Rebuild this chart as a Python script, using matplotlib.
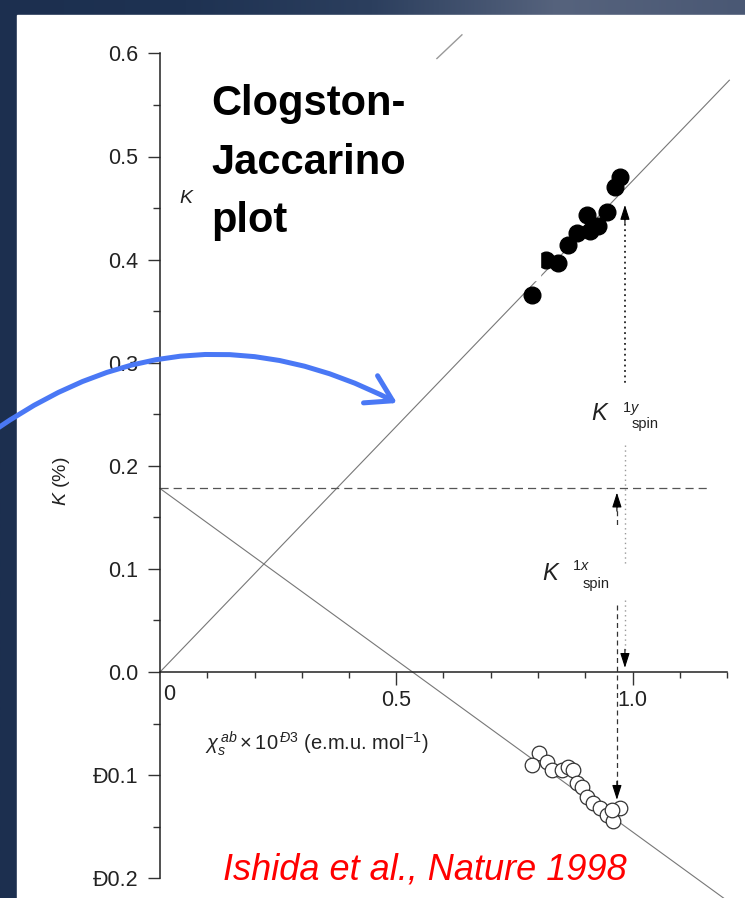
import numpy as np
import matplotlib
matplotlib.use("Agg")
import matplotlib.pyplot as plt
from matplotlib.patches import Rectangle, FancyArrowPatch
from matplotlib.colors import LinearSegmentedColormap

plt.rcParams['font.family'] = ['Liberation Sans', 'DejaVu Sans']
plt.rcParams['mathtext.fontset'] = 'custom'
plt.rcParams['mathtext.rm'] = 'Liberation Sans'
plt.rcParams['mathtext.it'] = 'Liberation Sans:italic'
plt.rcParams['mathtext.bf'] = 'Liberation Sans:bold'

W, H = 745, 898

# values
chi_filled = [0.787, 0.817, 0.842, 0.863, 0.883, 0.904, 0.910, 0.927, 0.946, 0.963, 0.974]
k_filled = [0.366, 0.400, 0.397, 0.414, 0.426, 0.443, 0.428, 0.433, 0.446, 0.470, 0.480]

chi_open = [0.802, 0.787, 0.819, 0.830, 0.851, 0.863, 0.874, 0.883, 0.893,
            0.904, 0.916, 0.931, 0.946, 0.959, 0.974, 0.957]
k_open = [-0.079, -0.090, -0.087, -0.095, -0.095, -0.092, -0.095, -0.108, -0.112,
          -0.121, -0.127, -0.132, -0.139, -0.145, -0.132, -0.134]

up_chi, up_k = [0.0, 1.205], [0.0, 0.574]          # K vs chi through origin
down_chi, down_k = [0.0, 1.24], [0.178, -0.235]    # falling line
k_orb = 0.178                                      # dashed level
frag_chi, frag_k = [0.586, 0.639], [0.595, 0.618]  # stray segment at top

chi_1y, chi_1x = 0.984, 0.967

yticks = [0.6, 0.5, 0.4, 0.3, 0.2, 0.1, 0.0, -0.1, -0.2]
ylabels = ['0.6', '0.5', '0.4', '0.3', '0.2', '0.1', '0.0', 'Ð0.1', 'Ð0.2']
xticks = [0.5, 1.0]
xlabels = ['0.5', '1.0']

fig = plt.figure(figsize=(W / 100, H / 100), dpi=100)


def px(x, y):
    return x / W, 1 - y / H


# slide background
bg = fig.add_axes([0, 0, 1, 1], zorder=-10)
cmap = LinearSegmentedColormap.from_list(
    'slide', ['#1c2f4f', '#1e3252', '#2c3f5e', '#56637d', '#4a5874'])
bg.imshow(np.linspace(0, 1, 256)[None, :], aspect='auto', cmap=cmap,
          extent=[0, 1, 0, 1])
bg.add_patch(Rectangle((17 / W, 0), 1, 1 - 15 / H, color='white'))
bg.set_xlim(0, 1)
bg.set_ylim(0, 1)
bg.set_axis_off()

# main axes, placed so that chi=0 -> x 160 px, K=0 -> y 672 px
x0, y0, sx, sy = 160, 672, 472.5, 1031
xlim, ylim = (0, 1.23), (-0.225, 0.62)
top_px = y0 - ylim[1] * sy
bot_px = y0 - ylim[0] * sy
ax = fig.add_axes([x0 / W, 1 - bot_px / H, (xlim[1] - xlim[0]) * sx / W,
                   (bot_px - top_px) / H])
ax.set_xlim(xlim)
ax.set_ylim(ylim)
ax.patch.set_alpha(0)

for s in ['top', 'right']:
    ax.spines[s].set_visible(False)
ax.spines['left'].set_bounds(-0.2, 0.6)
ax.spines['bottom'].set_position(('data', 0))
ax.spines['bottom'].set_bounds(0, 1.2)
for s in ['left', 'bottom']:
    ax.spines[s].set_linewidth(1.1)
    ax.spines[s].set_color('#222222')

ax.set_yticks(yticks, ylabels)
ax.set_yticks(np.arange(-0.15, 0.6, 0.1), minor=True)
ax.set_xticks(xticks, xlabels)
ax.set_xticks([0.1, 0.2, 0.3, 0.4, 0.6, 0.7, 0.8, 0.9, 1.1, 1.2], minor=True)
ax.tick_params(axis='y', which='major', length=9, width=1, pad=6.5,
               labelsize=15.5, color='#333333', labelcolor='#222222')
ax.tick_params(axis='y', which='minor', length=5, width=1, color='#333333')
ax.tick_params(axis='x', which='major', length=9, width=1, pad=4,
               labelsize=15.5, color='#333333', labelcolor='#222222')
ax.tick_params(axis='x', which='minor', length=4.5, width=1, color='#333333')
fig.text(*px(163, 684), '0', fontsize=15.5, color='#222222', ha='left', va='top')

# fit lines
ax.plot(up_chi, up_k, color='#777777', lw=0.8, zorder=1)
ax.plot(down_chi, down_k, color='#777777', lw=0.8, zorder=1, clip_on=False)
ax.plot([0, 1.16], [k_orb, k_orb], color='#555555', lw=0.9,
        ls=(0, (6.5, 4)), zorder=1)
ax.plot(frag_chi, frag_k, color='#999999', lw=1.0, zorder=1)

# data
ax.plot(chi_filled, k_filled, 'o', color='black', ms=12, zorder=2)
ax.plot(chi_open, k_open, 'o', mfc='white', mec='#333333', mew=0.9,
        ms=10.5, zorder=2)

# K1y spin arrow (dotted)
ax.plot([chi_1y, chi_1y], [0.445, 0.278], color='#222222', lw=1.3,
        ls=(0, (1, 2)), zorder=2)
ax.plot([chi_1y, chi_1y], [0.22, 0.105], color='#999999', lw=1.0,
        ls=(0, (1, 2.5)), zorder=2)
ax.plot([chi_1y, chi_1y], [0.070, 0.012], color='#999999', lw=1.0,
        ls=(0, (1, 2.5)), zorder=2)
arw = dict(arrowstyle='-|>,head_length=0.5,head_width=0.16', color='black',
           lw=0.8, shrinkA=0, shrinkB=0, mutation_scale=18)
ax.annotate('', xy=(chi_1y, 0.453), xytext=(chi_1y, 0.435), arrowprops=arw)
ax.annotate('', xy=(chi_1y, 0.004), xytext=(chi_1y, 0.022), arrowprops=arw)

# K1x spin arrow (dashed)
ax.plot([chi_1x, chi_1x], [0.165, 0.141], color='#333333', lw=0.9,
        ls=(0, (4, 3)), zorder=2)
ax.plot([chi_1x, chi_1x], [0.065, -0.115], color='#333333', lw=0.9,
        ls=(0, (4, 3)), zorder=2)
ax.annotate('', xy=(chi_1x, 0.174), xytext=(chi_1x, 0.156), arrowprops=arw)
ax.annotate('', xy=(chi_1x, -0.124), xytext=(chi_1x, -0.106), arrowprops=arw)

lab = dict(color='#222222', va='baseline', ha='left')
fig.text(*px(591, 420), r'$K$', fontsize=17, **lab)
fig.text(*px(622, 412), r'$1y$', fontsize=10.5, **lab)
fig.text(*px(632, 428), 'spin', fontsize=10.5, **lab)
fig.text(*px(542, 580), r'$K$', fontsize=17, **lab)
fig.text(*px(572, 570), r'$1x$', fontsize=10.5, **lab)
fig.text(*px(583, 588), 'spin', fontsize=10.5, **lab)

# axis labels
fig.text(*px(61, 481), r'$K$ (%)', rotation=90, fontsize=14, color='#222222',
         ha='center', va='center')
fig.text(*px(205, 744), r'$\chi_s^{\,ab}\times 10^{\,Ð3}$ (e.m.u. mol$^{-1}$)',
         fontsize=14.5, color='#222222', ha='left', va='center')

# white text box hiding part of the plot, with the title
ax.add_patch(Rectangle(px(195, 280), (540 - 195) / W, (280 - 60) / H,
                       transform=fig.transFigure, color='white', zorder=3,
                       clip_on=False))
fig.text(*px(179, 203), r'$K$', fontsize=14, color='#222222', ha='left',
         va='baseline')
for txt, base in [('Clogston-', 115), ('Jaccarino', 174), ('plot', 232)]:
    fig.text(*px(211, base), txt, fontsize=30, fontweight='bold', color='black',
             ha='left', va='baseline', zorder=5)

fig.text(*px(425, 879), 'Ishida et al., Nature 1998', fontsize=26,
         style='italic', color='#ff0000', ha='center', va='baseline')

# blue curved arrow
fig.add_artist(FancyArrowPatch(px(-2, 428), px(397, 403),
                               transform=fig.transFigure,
                               connectionstyle='arc3,rad=-0.3',
                               arrowstyle='->,head_length=0.9,head_width=0.55',
                               mutation_scale=20, lw=3.6, color='#4a78f5',
                               shrinkA=0, shrinkB=0, capstyle='round',
                               joinstyle='round', zorder=10))

fig.savefig('out.png', dpi=100)
